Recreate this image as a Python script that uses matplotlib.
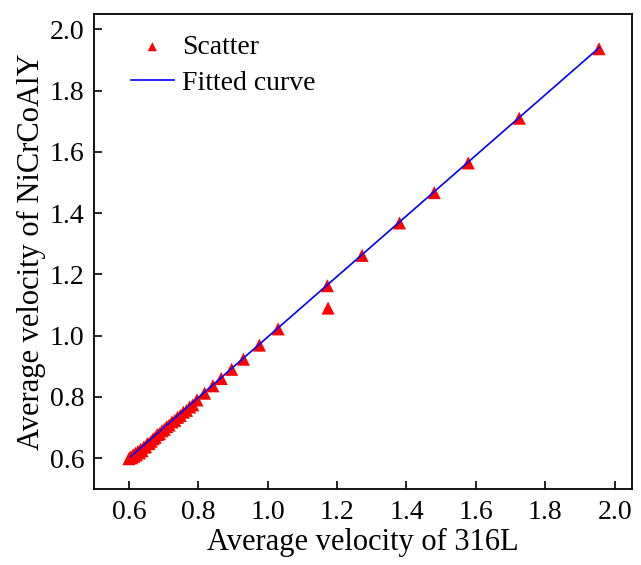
import matplotlib.pyplot as plt

plt.rcParams['font.family'] = ['Liberation Serif', 'DejaVu Serif']

# scatter points
x_316l = [0.600, 0.604, 0.608, 0.612, 0.615, 0.619, 0.622, 0.626, 0.630, 0.634,
          0.638, 0.643, 0.648, 0.653, 0.658, 0.664, 0.670, 0.676, 0.682, 0.688,
          0.695, 0.702, 0.709, 0.716, 0.724, 0.732, 0.740, 0.748, 0.757, 0.766,
          0.775, 0.784, 0.796, 0.818, 0.842, 0.866, 0.896, 0.930, 0.976, 1.030,
          1.172, 1.174, 1.272, 1.380, 1.480, 1.578, 1.725, 1.955]
y_nicrcoaly = [0.598, 0.604, 0.601, 0.611, 0.606, 0.616, 0.611, 0.622, 0.617, 0.629,
               0.624, 0.636, 0.637, 0.647, 0.648, 0.655, 0.663, 0.668, 0.677, 0.680,
               0.689, 0.694, 0.703, 0.708, 0.718, 0.723, 0.733, 0.739, 0.750, 0.756,
               0.767, 0.774, 0.790, 0.812, 0.836, 0.860, 0.890, 0.923, 0.969, 1.022,
               1.163, 1.090, 1.262, 1.368, 1.467, 1.564, 1.710, 1.937]

# fitted line end points
fit_x = [0.605, 1.955]
fit_y = [0.605, 1.940]

fig = plt.figure(figsize=(6.41, 5.65), dpi=100)
ax = fig.add_axes([0.147, 0.135, 0.839, 0.840])

ax.scatter(x_316l, y_nicrcoaly, marker='^', s=88, color='#ff0000',
           edgecolors='none', label='Scatter', zorder=2)
ax.plot(fit_x, fit_y, color='#0000ff', lw=1.2, label='Fitted curve', zorder=3)

ax.set_xlim(0.5, 2.05)
ax.set_ylim(0.5, 2.05)
ax.set_xticks([0.6, 0.8, 1.0, 1.2, 1.4, 1.6, 1.8, 2.0])
ax.set_yticks([0.6, 0.8, 1.0, 1.2, 1.4, 1.6, 1.8, 2.0])
ax.set_xticklabels(['0.6', '0.8', '1.0', '1.2', '1.4', '1.6', '1.8', '2.0'])
ax.set_yticklabels(['0.6', '0.8', '1.0', '1.2', '1.4', '1.6', '1.8', '2.0'])
ax.tick_params(direction='in', length=6, width=1.2, labelsize=20)
ax.tick_params(axis='x', pad=8)
ax.tick_params(axis='y', pad=7)

for sp in ax.spines.values():
    sp.set_linewidth(1.3)

ax.set_xlabel('Average velocity of 316L', fontsize=22, labelpad=2)
ax.set_ylabel('Average velocity of NiCrCoAlY', fontsize=22, labelpad=3)

ax.legend(loc='upper left', bbox_to_anchor=(0.068, 0.957), frameon=False,
          borderaxespad=0, borderpad=0, fontsize=20, handlelength=1.55,
          handletextpad=0.3, labelspacing=0.38, scatterpoints=1,
          markerscale=0.7)

fig.savefig('out.png', dpi=100)
